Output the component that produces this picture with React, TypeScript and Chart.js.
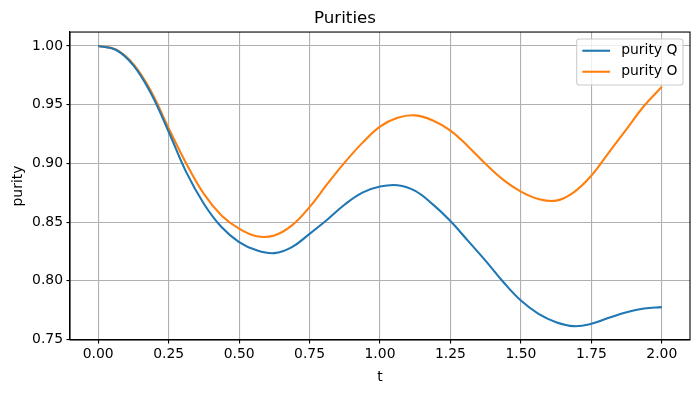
import React, { useEffect, useRef } from 'react';
import { Chart, registerables } from 'chart.js';

Chart.register(...registerables);

const tValues = [0, 0.0625, 0.125, 0.1875, 0.25, 0.3125, 0.375, 0.4375, 0.5, 0.5625, 0.625, 0.6875, 0.75, 0.8125, 0.875, 0.9375, 1.0, 1.0625, 1.125, 1.1875, 1.25, 1.3125, 1.375, 1.4375, 1.5, 1.5625, 1.625, 1.6875, 1.75, 1.8125, 1.875, 1.9375, 2.0];
const purityQ = [1.0, 0.9968, 0.9835, 0.9595, 0.927, 0.8926, 0.8657, 0.8458, 0.833, 0.826, 0.8236, 0.8287, 0.840, 0.852, 0.865, 0.8751, 0.8803, 0.8814, 0.8766, 0.8651, 0.8509, 0.834, 0.817, 0.799, 0.7832, 0.7719, 0.7648, 0.7614, 0.7634, 0.7685, 0.7733, 0.7764, 0.7776];
const purityO = [1.0, 0.997, 0.9845, 0.9615, 0.930, 0.900, 0.874, 0.8557, 0.8444, 0.838, 0.8387, 0.8472, 0.8628, 0.8823, 0.9009, 0.9175, 0.9314, 0.9389, 0.9409, 0.9366, 0.928, 0.9145, 0.8995, 0.886, 0.876, 0.8697, 0.8683, 0.8754, 0.8896, 0.9094, 0.9293, 0.9491, 0.9653];

const xTicks = [0, 0.25, 0.5, 0.75, 1.0, 1.25, 1.5, 1.75, 2.0];
const yTicks = [0.75, 0.8, 0.85, 0.9, 0.95, 1.0];
const seriesLabels = ['purity Q', 'purity O'];
const seriesColors = ['#1f77b4', '#ff7f0e'];
const chartTitle = 'Purities';
const xLabel = 't';
const yLabel = 'purity';

const FONT = 'DejaVu Sans';
const FS = 13.9;

const framePlugin = {
  id: 'frame',
  afterDatasetsDraw(chart: any) {
    const { ctx, chartArea } = chart;
    const { left, top, right, bottom } = chartArea;
    ctx.save();
    ctx.strokeStyle = '#000';
    ctx.lineWidth = 1.1;
    ctx.strokeRect(left, top, right - left, bottom - top);
    ctx.restore();
  },
};

const legendPlugin = {
  id: 'mplLegend',
  afterDraw(chart: any) {
    const { ctx, chartArea } = chart;
    ctx.save();
    ctx.font = `${FS}px "${FONT}"`;
    const pad = 5.6;
    const handle = 27.8;
    const gap = 11.1;
    const tw = Math.max(...seriesLabels.map((s) => ctx.measureText(s).width));
    const w = pad + handle + gap + tw + pad;
    const h = 46;
    const right = chartArea.right - 7;
    const top = chartArea.top + 7;
    const left = right - w;
    const r = 2.8;
    ctx.beginPath();
    ctx.moveTo(left + r, top);
    ctx.lineTo(right - r, top);
    ctx.quadraticCurveTo(right, top, right, top + r);
    ctx.lineTo(right, top + h - r);
    ctx.quadraticCurveTo(right, top + h, right - r, top + h);
    ctx.lineTo(left + r, top + h);
    ctx.quadraticCurveTo(left, top + h, left, top + h - r);
    ctx.lineTo(left, top + r);
    ctx.quadraticCurveTo(left, top, left + r, top);
    ctx.closePath();
    ctx.fillStyle = 'rgba(255,255,255,0.8)';
    ctx.fill();
    ctx.strokeStyle = '#cccccc';
    ctx.lineWidth = 1.1;
    ctx.stroke();
    seriesLabels.forEach((label, i) => {
      const cy = top + 11.7 + i * 21;
      ctx.beginPath();
      ctx.strokeStyle = seriesColors[i];
      ctx.lineWidth = 2.08;
      ctx.moveTo(left + pad, cy);
      ctx.lineTo(left + pad + handle, cy);
      ctx.stroke();
      ctx.fillStyle = '#000';
      ctx.textBaseline = 'middle';
      ctx.textAlign = 'left';
      ctx.fillText(label, left + pad + handle + gap, cy);
    });
    ctx.restore();
  },
};

export default function App() {
  const ref = useRef<HTMLCanvasElement | null>(null);

  useEffect(() => {
    document.body.style.margin = '0';
    const canvas = ref.current;
    if (!canvas) return;
    Chart.defaults.font.family = FONT;
    Chart.defaults.font.size = FS;
    Chart.defaults.color = '#000';

    const chart = new Chart(canvas, {
      type: 'line',
      data: {
        datasets: [
          {
            label: seriesLabels[0],
            data: tValues.map((t, i) => ({ x: t, y: purityQ[i] })),
            borderColor: seriesColors[0],
            backgroundColor: seriesColors[0],
            borderWidth: 2.08,
            pointRadius: 0,
            tension: 0.4,
          },
          {
            label: seriesLabels[1],
            data: tValues.map((t, i) => ({ x: t, y: purityO[i] })),
            borderColor: seriesColors[1],
            backgroundColor: seriesColors[1],
            borderWidth: 2.08,
            pointRadius: 0,
            tension: 0.4,
          },
        ],
      },
      options: {
        animation: false,
        responsive: false,
        devicePixelRatio: 1,
        layout: { padding: { left: 0, right: 10, top: 0, bottom: 0 } },
        plugins: {
          legend: { display: false },
          tooltip: { enabled: false },
          title: {
            display: true,
            text: chartTitle,
            color: '#000',
            font: { size: 16.7, weight: 'normal', family: FONT },
            padding: { top: 9, bottom: 3 },
          },
        },
        scales: {
          x: {
            type: 'linear',
            min: -0.1,
            max: 2.1,
            afterBuildTicks: (scale: any) => {
              scale.ticks = xTicks.map((v) => ({ value: v }));
            },
            afterFit: (scale: any) => {
              scale.height = 53;
            },
            ticks: {
              color: '#000',
              padding: 3,
              maxRotation: 0,
              autoSkip: false,
              callback: (v: any) => Number(v).toFixed(2),
            },
            grid: {
              color: '#b0b0b0',
              lineWidth: 1.1,
              tickColor: '#000',
              tickLength: 3.5,
              tickWidth: 1.1,
            },
            border: { color: '#000', width: 1.1 },
            title: {
              display: true,
              text: xLabel,
              color: '#000',
              font: { size: FS },
              padding: { top: 0, bottom: 7 },
            },
          },
          y: {
            type: 'linear',
            min: 0.7496,
            max: 1.0119,
            afterBuildTicks: (scale: any) => {
              scale.ticks = yTicks.map((v) => ({ value: v }));
            },
            afterFit: (scale: any) => {
              scale.width = 70;
            },
            ticks: {
              color: '#000',
              padding: 3.5,
              autoSkip: false,
              callback: (v: any) => Number(v).toFixed(2),
            },
            grid: {
              color: '#b0b0b0',
              lineWidth: 1.1,
              tickColor: '#000',
              tickLength: 3.5,
              tickWidth: 1.1,
            },
            border: { color: '#000', width: 1.1 },
            title: {
              display: true,
              text: yLabel,
              color: '#000',
              font: { size: FS },
              padding: { top: 10, bottom: 0 },
            },
          },
        },
      } as any,
      plugins: [framePlugin, legendPlugin],
    });
    return () => chart.destroy();
  }, []);

  return (
    <div style={{ position: 'absolute', left: 0, top: 0, width: 700, height: 393, background: '#fff' }}>
      <canvas ref={ref} width={700} height={393} style={{ display: 'block' }} />
    </div>
  );
}
